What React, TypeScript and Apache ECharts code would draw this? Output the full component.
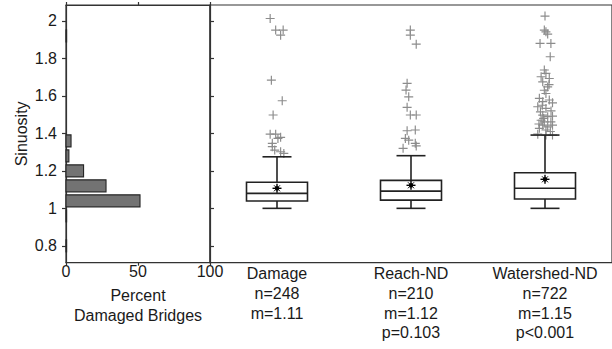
import React, { useEffect, useRef } from "react";
import * as echarts from "echarts";

// Histogram (percent of damaged bridges per sinuosity bin)
const histLow = [0.76, 0.92, 1.0, 1.08, 1.16, 1.24, 1.32, 1.88];
const histHigh = [0.84, 1.0, 1.08, 1.16, 1.24, 1.32, 1.4, 1.96];
const histPct = [0.4, 0.4, 51.4, 27.8, 12.2, 2.0, 3.5, 0.4];

// Box plots
const catNames = ["Damage", "Reach-ND", "Watershed-ND"];
const catN = ["n=248", "n=210", "n=722"];
const catM = ["m=1.11", "m=1.12", "m=1.15"];
const catP = ["", "p=0.103", "p<0.001"];
const boxLow = [1.0, 1.0, 1.0];
const boxQ1 = [1.039, 1.044, 1.05];
const boxMedian = [1.08, 1.092, 1.107];
const boxQ3 = [1.139, 1.149, 1.19];
const boxHigh = [1.275, 1.281, 1.391];
const boxMean = [1.107, 1.123, 1.155];

// Outliers: [x offset within category, sinuosity]
const outDamage = [
  [-0.051, 2.013], [-0.01, 1.951], [0.046, 1.951], [0.027, 1.924], [-0.042, 1.684],
  [0.039, 1.574], [-0.029, 1.498], [-0.051, 1.396], [-0.01, 1.396], [0.027, 1.379],
  [0.007, 1.373], [-0.035, 1.347], [-0.035, 1.329], [-0.017, 1.311], [0.027, 1.302],
  [0.051, 1.293],
];
const outReach = [
  [-0.005, 1.951], [-0.005, 1.924], [0.039, 1.876], [-0.029, 1.667], [-0.037, 1.631],
  [-0.017, 1.595], [-0.029, 1.539], [-0.005, 1.498], [0.039, 1.498], [-0.029, 1.414],
  [0.032, 1.418], [-0.042, 1.373], [-0.017, 1.364], [0.032, 1.347], [0.039, 1.333],
  [-0.059, 1.32],
];
const outWatershed = [
  [0.0, 2.026], [-0.005, 1.951], [0.007, 1.942], [0.02, 1.93], [-0.037, 1.88],
  [0.044, 1.88], [0.039, 1.809], [-0.005, 1.738], [0.007, 1.72], [-0.029, 1.702],
  [0.032, 1.693], [-0.017, 1.675], [0.02, 1.648], [-0.005, 1.63], [0.007, 1.613],
  [-0.042, 1.587], [0.032, 1.578], [-0.017, 1.569], [0.056, 1.563], [-0.054, 1.542],
  [0.007, 1.533], [-0.034, 1.515], [-0.017, 1.497], [0.02, 1.489], [0.056, 1.492],
  [-0.029, 1.47], [-0.005, 1.461], [0.044, 1.461], [-0.017, 1.444], [0.02, 1.435],
  [0.056, 1.444], [-0.042, 1.427], [0.007, 1.418], [-0.054, 1.396], [0.007, 1.391],
  [0.056, 1.391], [0.03, 1.66], [-0.02, 1.55], [0.045, 1.52], [-0.045, 1.45],
  [0.04, 1.41], [-0.01, 1.48],
];
const outlierGroups = [outDamage, outReach, outWatershed];

const yTicks = [0.8, 1, 1.2, 1.4, 1.6, 1.8, 2];
const xTicksLeft = [0, 50, 100];

const FONT = "'Liberation Sans', Arial, sans-serif";
const AXIS_COLOR = "#333";
const TEXT_COLOR = "#1a1a1a";
const Y_MIN = 0.71;
const Y_MAX = 2.085;

const PLUS = "path://M4.35,0H5.65V4.35H10V5.65H5.65V10H4.35V5.65H0V4.35H4.35Z";

export default function App() {
  const ref = useRef<HTMLDivElement>(null);

  useEffect(() => {
    if (!ref.current) return;
    const chart = echarts.init(ref.current, null, { renderer: "svg" });

    const histData = histLow.map((lo, i) => [lo, histHigh[i], histPct[i]]);
    const boxData = catNames.map((_, i) => [
      i, boxLow[i], boxQ1[i], boxMedian[i], boxQ3[i], boxHigh[i], boxMean[i],
    ]);
    const outData: number[][] = [];
    outlierGroups.forEach((g, i) => g.forEach((p) => outData.push([i + p[0], p[1]])));

    const lineStyle = { color: AXIS_COLOR, width: 1.2 };

    chart.setOption({
      animation: false,
      textStyle: { fontFamily: FONT },
      grid: [
        { left: 66, top: 5, width: 144, height: 257.7, show: true, borderColor: AXIS_COLOR, borderWidth: 1.2 },
        { left: 210, top: 5, width: 408, height: 257.7, show: true, borderColor: AXIS_COLOR, borderWidth: 1.2 },
      ],
      xAxis: [
        {
          gridIndex: 0, type: "value", min: 0, max: 100, interval: 50, position: "bottom",
          axisLine: { show: true, onZero: false, lineStyle },
          axisTick: { show: true, length: 3, lineStyle },
          splitLine: { show: false },
          axisLabel: {
            color: TEXT_COLOR, fontSize: 16, fontFamily: FONT, margin: 1, lineHeight: 16,
            customValues: xTicksLeft,
          },
          name: "Percent\nDamaged Bridges",
          nameLocation: "middle",
          nameGap: 23,
          nameTextStyle: { color: TEXT_COLOR, fontSize: 16, fontFamily: FONT, lineHeight: 20 },
        },
        {
          gridIndex: 0, type: "value", min: 0, max: 100, interval: 50, position: "top",
          axisLine: { show: true, onZero: false, lineStyle },
          axisTick: { show: true, length: 3, lineStyle },
          splitLine: { show: false },
          axisLabel: { show: false },
        },
        {
          gridIndex: 1, type: "category", data: catNames, position: "bottom",
          axisLine: { show: true, onZero: false, lineStyle },
          axisTick: { show: false },
          axisLabel: {
            color: TEXT_COLOR, fontSize: 16, fontFamily: FONT, margin: 1, lineHeight: 19.8,
            interval: 0,
            formatter: (v: string, i: number) =>
              [catNames[i], catN[i], catM[i], catP[i]].filter((s) => s).join("\n"),
          },
        },
        {
          gridIndex: 1, type: "value", min: -0.5, max: 2.5, show: false,
          axisLine: { onZero: false },
        },
      ],
      yAxis: [
        {
          gridIndex: 0, type: "value", min: Y_MIN, max: Y_MAX,
          axisLine: { show: true, onZero: false, lineStyle },
          axisTick: { show: true, length: 4, lineStyle, customValues: yTicks },
          splitLine: { show: false },
          axisLabel: {
            color: TEXT_COLOR, fontSize: 16, fontFamily: FONT, margin: 9,
            customValues: yTicks,
            formatter: (v: number) => String(v),
          },
          name: "Sinuosity",
          nameLocation: "middle",
          nameRotate: 90,
          nameGap: 37,
          nameTextStyle: { color: TEXT_COLOR, fontSize: 16, fontFamily: FONT, lineHeight: 16 },
        },
        {
          gridIndex: 1, type: "value", min: Y_MIN, max: Y_MAX,
          axisLine: { show: true, onZero: false, lineStyle },
          axisTick: { show: true, inside: true, length: 4, lineStyle, customValues: yTicks },
          splitLine: { show: false },
          axisLabel: { show: false },
        },
      ],
      series: [
        {
          type: "custom",
          xAxisIndex: 0,
          yAxisIndex: 0,
          data: histData,
          encode: { x: 2, y: [0, 1] },
          renderItem: (params: any, api: any) => {
            const pTop = api.coord([0, api.value(1)]);
            const pBot = api.coord([api.value(2), api.value(0)]);
            return {
              type: "rect",
              shape: {
                x: pTop[0],
                y: pTop[1] + 1.5,
                width: Math.max(pBot[0] - pTop[0], 0.6),
                height: pBot[1] - pTop[1] - 3,
              },
              style: { fill: "#737373", stroke: "#262626", lineWidth: 1.1 },
            };
          },
        },
        {
          type: "scatter",
          xAxisIndex: 3,
          yAxisIndex: 1,
          data: outData,
          symbol: PLUS,
          symbolSize: 9,
          itemStyle: { color: "#8c8c8c", opacity: 1 },
          z: 2,
        },
        {
          type: "custom",
          xAxisIndex: 3,
          yAxisIndex: 1,
          data: boxData,
          encode: { x: 0, y: [1, 2, 3, 4, 5, 6] },
          z: 3,
          renderItem: (params: any, api: any) => {
            const i = api.value(0);
            const cx = api.coord([i, 1])[0];
            const y = (k: number) => api.coord([i, api.value(k)])[1];
            const yLow = y(1), yQ1 = y(2), yMed = y(3), yQ3 = y(4), yHigh = y(5), yMean = y(6);
            const hw = 30.5, cw = 14.5;
            const st = { stroke: "#222", lineWidth: 1.6 };
            const ln = (x1: number, y1: number, x2: number, y2: number, s: any = st) => ({
              type: "line", shape: { x1, y1, x2, y2 }, style: s,
            });
            return {
              type: "group",
              children: [
                ln(cx, yQ1, cx, yLow),
                ln(cx, yQ3, cx, yHigh),
                ln(cx - cw, yLow, cx + cw, yLow),
                ln(cx - cw, yHigh, cx + cw, yHigh),
                {
                  type: "rect",
                  shape: { x: cx - hw, y: yQ3, width: hw * 2, height: yQ1 - yQ3 },
                  style: { fill: "#fff", stroke: "#222", lineWidth: 1.6 },
                },
                ln(cx - hw, yMed, cx + hw, yMed),
                ln(cx - 4.5, yMean, cx + 4.5, yMean, { stroke: "#000", lineWidth: 1.4 }),
                ln(cx, yMean - 4.5, cx, yMean + 4.5, { stroke: "#000", lineWidth: 1.4 }),
                ln(cx - 3, yMean - 3, cx + 3, yMean + 3, { stroke: "#000", lineWidth: 1 }),
                ln(cx - 3, yMean + 3, cx + 3, yMean - 3, { stroke: "#000", lineWidth: 1 }),
                { type: "circle", shape: { cx, cy: yMean, r: 2.2 }, style: { fill: "#000" } },
              ],
            };
          },
        },
      ],
    });

    return () => chart.dispose();
  }, []);

  return (
    <div
      ref={ref}
      style={{ position: "absolute", left: 0, top: 0, width: 612, height: 349, background: "#fff" }}
    />
  );
}
